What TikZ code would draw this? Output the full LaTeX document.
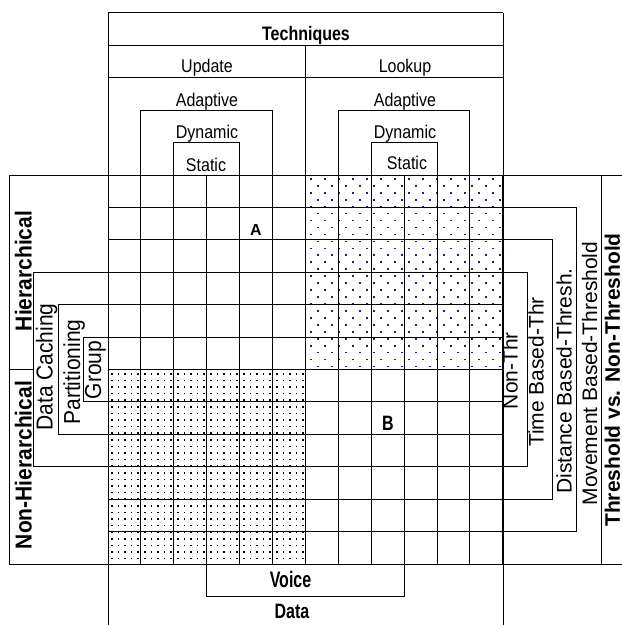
\documentclass[tikz,border=0pt]{standalone}
\usepackage{fontspec}
\setmainfont{Liberation Sans}
\definecolor{navydot}{RGB}{30,30,130}
\begin{document}
\begin{tikzpicture}[x=1pt,y=-1pt,
  ln/.style={line width=0.9pt,black},
  thk/.style={line width=1.8pt,black},
  box/.style={ln,fill=white},
  lab/.style={inner sep=0pt,anchor=base,font=\fontsize{16}{18}\selectfont},
  blab/.style={inner sep=0pt,anchor=base,font=\fontsize{16}{18}\selectfont\bfseries},
  side/.style={inner sep=0pt,anchor=base,rotate=90,font=\fontsize{21}{24}\selectfont},
  bside/.style={inner sep=0pt,anchor=base,rotate=90,font=\fontsize{21}{24}\selectfont\bfseries}]
\useasboundingbox (0,0) rectangle (622,625);
% dot patterns
\foreach \j in {0,...,27}{
  \pgfmathsetmacro{\yy}{178+\j*6.95}
  \pgfmathsetmacro{\off}{mod(\j,2)*7}
  \foreach \i in {0,...,13}{
    \pgfmathsetmacro{\xx}{310+\off+\i*14}
    \fill[navydot] (\xx,\yy) rectangle ++(1.7,1.7);
  }
}
\foreach \j in {0,...,28}{
  \pgfmathsetmacro{\yy}{373+\j*6.6}
  \foreach \i in {0,...,29}{
    \pgfmathsetmacro{\xx}{111+\i*6.6}
    \fill[black] (\xx,\yy) rectangle ++(1.5,1.5);
  }
}
% grid
\foreach \i in {0,...,12}{
  \draw[ln] ({108+\i*32.9},175) -- ({108+\i*32.9},564);
  \draw[ln] (108,{175+\i*32.42}) -- (503,{175+\i*32.42});
}
% header
\draw[ln] (108,12.9) -- (503,12.9);
\draw[ln] (108,45.4) -- (503,45.4);
\draw[ln] (108,77.8) -- (503,77.8);
\draw[ln] (108,12.9) -- (108,630);
\draw[ln] (503,12.9) -- (503,630);
\draw[ln] (140.9,175) -- (140.9,110.3) -- (272.5,110.3) -- (272.5,175);
\draw[ln] (173.8,175) -- (173.8,142.6) -- (239.6,142.6) -- (239.6,175);
\draw[ln] (338.3,175) -- (338.3,110.3) -- (469.9,110.3) -- (469.9,175);
\draw[ln] (371.2,175) -- (371.2,142.6) -- (437,142.6) -- (437,175);
% left boxes
\draw[ln] (9.2,175) rectangle (108,369.5);
\draw[ln] (9.2,369.5) rectangle (108,564);
\draw[thk] (9.2,369.5) -- (33.9,369.5);
\draw[box] (33.9,272.3) rectangle (108,466.8);
\draw[box] (58.6,304.7) rectangle (108,434.4);
\draw[box] (83.3,337.1) rectangle (108,401.9);
% right boxes
\draw[ln] (601.4,175) rectangle (626,564);
\draw[box] (503,175) rectangle (601.4,564);
\draw[box] (503,207.4) rectangle (576.8,531.6);
\draw[box] (503,239.8) rectangle (552.2,499.2);
\draw[box] (503,272.3) rectangle (527.6,466.8);
% bottom
\draw[ln] (206.7,564) rectangle (404.1,596.4);
% thick cross
\draw[thk] (305.4,45.4) -- (305.4,564);
\draw[thk] (108,369.5) -- (503,369.5);
% labels
\node[blab] (tech) at (306,40.7) {\scalebox{1}[1.22]{Techniques}};
\node[lab] (upd) at (207,72.7) {\scalebox{1}[1.15]{Update}};
\node[lab] (look) at (405,72.7) {\scalebox{1}[1.15]{Lookup}};
\node[lab] (adl) at (207,106.7) {\scalebox{1}[1.15]{Adaptive}};
\node[lab] (adr) at (405,106.7) {\scalebox{1}[1.15]{Adaptive}};
\node[lab] (dyl) at (207,138.3) {\scalebox{1}[1.15]{Dynamic}};
\node[lab] (dyr) at (405,138.3) {\scalebox{1}[1.15]{Dynamic}};
\node[lab] (stl) at (206,171.5) {\scalebox{1}[1.15]{Static}};
\node[lab] (str) at (407,169) {\scalebox{1}[1.15]{Static}};
\node[blab] (la) at (256,235) {A};
\node[blab] (lb) at (388,430) {\scalebox{1}[1.3]{B}};
\node[blab] (voice) at (290.5,587) {\scalebox{1}[1.4]{Voice}};
\node[blab] (data) at (292,618) {\scalebox{1}[1.3]{Data}};
\node[bside] (hier) at (31.7,271) {\scalebox{1}[1.1]{Hierarchical}};
\node[bside] (nhier) at (31.7,465) {\scalebox{1}[1.1]{Non-Hierarchical}};
\node[side] (dc) at (52.5,367) {\scalebox{1}[1.1]{Data Caching}};
\node[side] (part) at (80,372) {\scalebox{1}[1.1]{Partitioning}};
\node[side] (grp) at (101,370) {\scalebox{1}[1.1]{Group}};
\node[side] (nthr) at (517.5,370.5) {Non-Thr};
\node[side] (tthr) at (543.5,372) {Time Based-Thr};
\node[side] (dthr) at (571.7,381) {Distance Based-Thresh.};
\node[side] (mthr) at (597,373.5) {Movement Based-Threshold};
\node[bside] (thr) at (619.8,380) {Threshold vs. Non-Threshold};
\end{tikzpicture}
\end{document}
